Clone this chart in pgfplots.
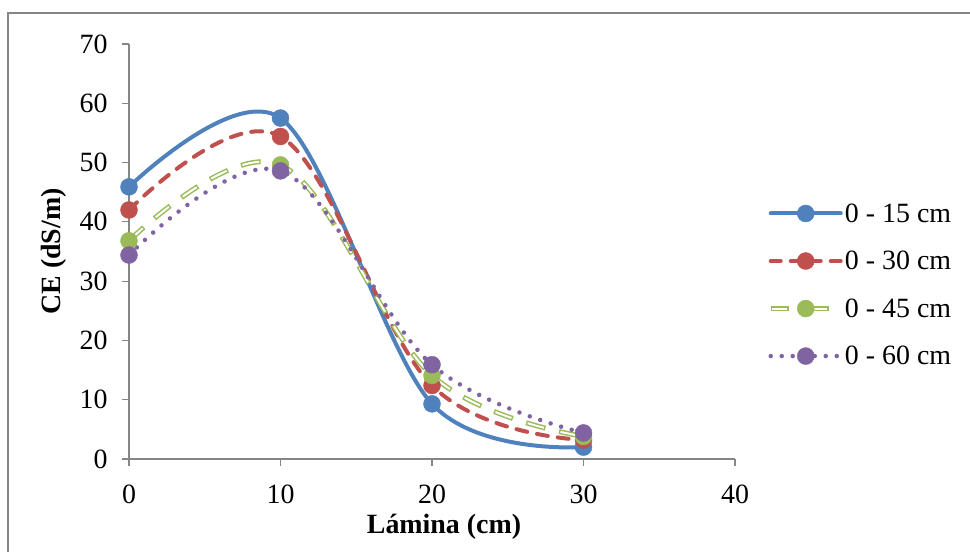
\documentclass[border=0pt]{standalone}
\usepackage{fontspec}
\setmainfont{Liberation Serif}
\usepackage{pgfplots}
\pgfplotsset{compat=1.18}
\definecolor{sblue}{HTML}{4F81BD}
\definecolor{sred}{HTML}{C0504D}
\definecolor{sgreen}{HTML}{9BBB59}
\definecolor{spurple}{HTML}{8064A2}
\definecolor{axgray}{HTML}{868686}
\pgfplotstableread{
x y
0 45.9
10 57.5
20 9.3
30 2.0
}\sA
\pgfplotstableread{
x y
0 42.0
10 54.4
20 12.4
30 3.2
}\sB
\pgfplotstableread{
x y
0 36.8
10 49.6
20 14.1
30 3.8
}\sC
\pgfplotstableread{
x y
0 34.4
10 48.6
20 15.9
30 4.4
}\sD
\begin{document}
\begin{tikzpicture}[x=1bp,y=1bp]
\useasboundingbox (0,0) rectangle (970,552);
\draw[axgray, line width=1.5bp] (8,0) -- (8,539) -- (970,539);
\begin{axis}[
  at={(129bp,93bp)}, anchor=origin,
  scale only axis, width=606bp, height=415bp,
  xmin=0, xmax=40, ymin=0, ymax=70,
  xtick={0,10,20,30,40}, ytick={0,10,...,70},
  axis x line=bottom, axis y line=left,
  axis line style={axgray, line width=1.2bp, -},
  tick style={axgray, line width=1.2bp},
  tick align=outside, major tick length=7bp,
  /pgf/number format/assume math mode=true,
  ticklabel style={font=\fontsize{28}{33}\selectfont, black},
  xticklabel style={yshift=-15bp},
  yticklabel style={xshift=-11bp},
  xlabel={\textbf{Lámina (cm)}},
  ylabel={\textbf{CE (dS/m)}},
  label style={font=\fontsize{28}{33}\selectfont},
  xlabel style={at={(rel axis cs:0.5,0)}, anchor=base, yshift=-75bp, xshift=12bp},
  ylabel style={at={(rel axis cs:0,0.5)}, anchor=center, yshift=75bp},
  clip=false,
  legend style={at={(rel axis cs:1.0545,0.621)}, anchor=north west, draw=none, fill=none,
    font=\fontsize{28}{33}\selectfont, row sep=23.5bp, inner sep=0pt,
    cells={anchor=west}},
  legend cell align=left,
]
% series 1
\addplot[sblue, line width=4bp, smooth, tension=0.55, forget plot] table {\sA};
\addplot[only marks, mark=*, mark size=8.5bp, sblue, forget plot] table {\sA};
% series 2
\addplot[sred, line width=4bp, smooth, tension=0.6, line cap=round, dash pattern=on 11bp off 10bp, forget plot] table {\sB};
\addplot[only marks, mark=*, mark size=8.5bp, sred, forget plot] table {\sB};
% series 3
\addplot[sgreen, line width=5bp, smooth, tension=0.6, dash pattern=on 20bp off 14bp, forget plot] table {\sC};
\addplot[white, line width=2bp, smooth, tension=0.6, dash pattern=on 17bp off 17bp, dash phase=-1.5bp, forget plot] table {\sC};
\addplot[only marks, mark=*, mark size=8.5bp, sgreen, forget plot] table {\sC};
% series 4
\addplot[spurple, line width=4.5bp, smooth, tension=0.6, line cap=round, dash pattern=on 0bp off 11bp, forget plot] table {\sD};
\addplot[only marks, mark=*, mark size=8.5bp, spurple, forget plot] table {\sD};
% legend
\addlegendimage{legend image code/.code={
  \draw[sblue, line width=4bp, line cap=round] (0bp,0bp) -- (70bp,0bp);
  \fill[sblue] (35bp,0bp) circle (8.5bp);}}
\addlegendentry{0 - 15 cm}
\addlegendimage{legend image code/.code={
  \draw[sred, line width=4bp, line cap=round, dash pattern=on 10bp off 10bp] (0bp,0bp) -- (70bp,0bp);
  \fill[sred] (35bp,0bp) circle (8.5bp);}}
\addlegendentry{0 - 30 cm}
\addlegendimage{legend image code/.code={
  \draw[sgreen, line width=5bp] (0bp,0bp) -- (18bp,0bp);
  \draw[white, line width=2bp] (1.5bp,0bp) -- (16.5bp,0bp);
  \draw[sgreen, line width=5bp] (35bp,0bp) -- (58bp,0bp);
  \draw[white, line width=2bp] (36.5bp,0bp) -- (56.5bp,0bp);
  \fill[sgreen] (35bp,0bp) circle (8.5bp);
  \path (70bp,0bp);}}
\addlegendentry{0 - 45 cm}
\addlegendimage{legend image code/.code={
  \draw[spurple, line width=4.5bp, line cap=round, dash pattern=on 0bp off 11bp] (0bp,0bp) -- (70bp,0bp);
  \fill[spurple] (35bp,0bp) circle (8.5bp);}}
\addlegendentry{0 - 60 cm}
\end{axis}
\end{tikzpicture}
\end{document}
